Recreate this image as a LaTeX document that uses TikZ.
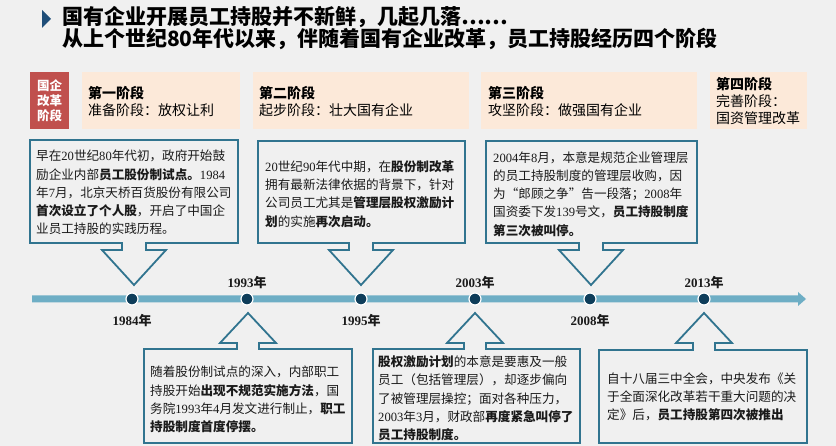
\documentclass[tikz,border=0pt]{standalone}
\usepackage{fontspec}
\setmainfont{Noto Sans CJK SC}
\newfontfamily\numf{Liberation Serif}
\newcommand\nm[1]{{\numf #1}}
\definecolor{bg}{HTML}{F0F0F0}
\definecolor{peach}{HTML}{FCE9D9}
\definecolor{redb}{HTML}{C0504D}
\definecolor{edge}{HTML}{31748F}
\definecolor{barc}{HTML}{6EAEC5}
\definecolor{dotc}{HTML}{0E3D5A}
\definecolor{navy}{HTML}{1F4E79}
\definecolor{txt}{HTML}{1A1A1A}
\tikzset{
  callout/.style={draw=edge, fill=bg, line width=1.8pt, line join=miter},
  boxtext/.style={anchor=west, inner sep=0pt, align=left, text=txt, font={\fontsize{12.6}{18.3}\selectfont}},
  stagebox/.style={fill=peach, draw=none},
  stagetext/.style={anchor=west, inner sep=0pt, align=left, text=black, font={\fontsize{14}{17}\selectfont}},
  tdot/.style={circle, fill=dotc, draw=white, line width=1.2pt, minimum size=12pt, inner sep=0pt},
  year/.style={inner sep=0pt, text=txt, font={\fontsize{13}{15}\selectfont\bfseries}},
}
% down callout: x1 y1 x2 y2 cx tipY headY
\newcommand\calloutD[7]{%
  \draw[callout] (#1,#2) -- (#3,#2) -- (#3,#4) -- ({#5+12},#4) -- ({#5+12},#7) -- ({#5+32},#7)
   -- (#5,#6) -- ({#5-32},#7) -- ({#5-12},#7) -- ({#5-12},#4) -- (#1,#4) -- cycle;}
% up callout: x1 ytop x2 ybot cx tipY headY
\newcommand\calloutU[7]{%
  \draw[callout] (#1,#2) -- ({#5-11},#2) -- ({#5-11},#7) -- ({#5-28},#7) -- (#5,#6)
   -- ({#5+28},#7) -- ({#5+11},#7) -- ({#5+11},#2) -- (#3,#2) -- (#3,#4) -- (#1,#4) -- cycle;}
\begin{document}
\begin{tikzpicture}[x=1pt,y=-1pt]
\fill[bg] (0,0) rectangle (836,446);
\useasboundingbox (0,0) rectangle (836,446);

% title
\fill[navy] (42,10) -- (51,19) -- (42,28) -- cycle;
\node[anchor=west, inner sep=0pt, font={\fontsize{21}{22}\selectfont\bfseries}] (t1) at (62,17) {国有企业开展员工持股并不新鲜，几起几落……};
\node[anchor=west, inner sep=0pt, font={\fontsize{21}{22}\selectfont\bfseries}] (t2) at (62,39) {从上个世纪80年代以来，伴随着国有企业改革，员工持股经历四个阶段};

% stage row
\fill[redb] (30,72) rectangle (69,129);
\node[inner sep=0pt, align=center, text=white, font={\fontsize{12.5}{15}\selectfont\bfseries}] (red) at (49.5,101) {国企\\改革\\阶段};
\fill[stagebox] (82,72) rectangle (240,129);
\fill[stagebox] (253,72) rectangle (469,129);
\fill[stagebox] (481,72) rectangle (697,129);
\fill[stagebox] (710,72) rectangle (807,129);
\node[stagetext] (s1) at (88,101.5) {\textbf{第一阶段}\\准备阶段：放权让利};
\node[stagetext] (s2) at (259,101.5) {\textbf{第二阶段}\\起步阶段：壮大国有企业};
\node[stagetext] (s3) at (488,101.5) {\textbf{第三阶段}\\攻坚阶段：做强国有企业};
\node[stagetext] (s4) at (716,101) {\textbf{第四阶段}\\完善阶段：\\国资管理改革};

% top callouts
\calloutD{30}{140}{238}{243}{134}{285}{250}
\calloutD{258}{141}{465}{243}{361}{285}{250}
\calloutD{486}{141}{697}{243}{591}{285}{250}
\node[boxtext] (b1) at (36,192.5) {早在\nm{20}世纪\nm{80}年代初，政府开始鼓\\励企业内部\textbf{员工股份制试点。}\nm{1984}\\年\nm{7}月，北京天桥百货股份有限公司\\\textbf{首次设立了个人股}，开启了中国企\\业员工持股的实践历程。};
\node[boxtext] (b2) at (265,194) {\nm{20}世纪\nm{90}年代中期，在\textbf{股份制改革}\\拥有最新法律依据的背景下，针对\\公司员工尤其是\textbf{管理层股权激励计}\\\textbf{划}的实施\textbf{再次启动。}};
\node[boxtext] (b3) at (493,194) {\nm{2004}年\nm{8}月，本意是规范企业管理层\\的员工持股制度的管理层收购，因\\为“郎顾之争”告一段落；\nm{2008}年\\国资委下发\nm{139}号文，\textbf{员工持股制度}\\\textbf{第三次被叫停。}};

% bottom callouts
\calloutU{144}{349}{352}{443}{248}{313}{343}
\calloutU{373}{349}{580}{443}{475}{313}{343}
\calloutU{599}{350}{807}{443}{704}{313}{343}
\node[boxtext] (b4) at (150,399.5) {随着股份制试点的深入，内部职工\\持股开始\textbf{出现不规范实施方法}，国\\务院\nm{1993}年\nm{4}月发文进行制止，\textbf{职工}\\\textbf{持股制度首度停摆。}};
\node[boxtext] (b5) at (378,398.5) {\textbf{股权激励计划}的本意是要惠及一般\\员工（包括管理层），却逐步偏向\\了被管理层操控；面对各种压力，\\\nm{2003}年\nm{3}月，财政部\textbf{再度紧急叫停了}\\\textbf{员工持股制度。}};
\node[boxtext] (b6) at (607,397) {自十八届三中全会，中央发布《关\\于全面深化改革若干重大问题的决\\定》后，\textbf{员工持股第四次被推出}};

% timeline
\fill[barc] (32,295.5) -- (798,295.5) -- (798,292) -- (806,299) -- (798,306) -- (798,302.5) -- (32,302.5) -- cycle;
\node[tdot] (d1) at (132,299) {};
\node[tdot] (d2) at (247,299) {};
\node[tdot] (d3) at (361,299) {};
\node[tdot] (d4) at (475,299) {};
\node[tdot] (d5) at (590,299) {};
\node[tdot] (d6) at (704,299) {};
\node[year] (y1) at (132,321) {{\numf 1984}年};
\node[year] (y2) at (247,283) {{\numf 1993}年};
\node[year] (y3) at (361,321) {{\numf 1995}年};
\node[year] (y4) at (475,283) {{\numf 2003}年};
\node[year] (y5) at (590,321) {{\numf 2008}年};
\node[year] (y6) at (704,283) {{\numf 2013}年};
\end{tikzpicture}
\end{document}
